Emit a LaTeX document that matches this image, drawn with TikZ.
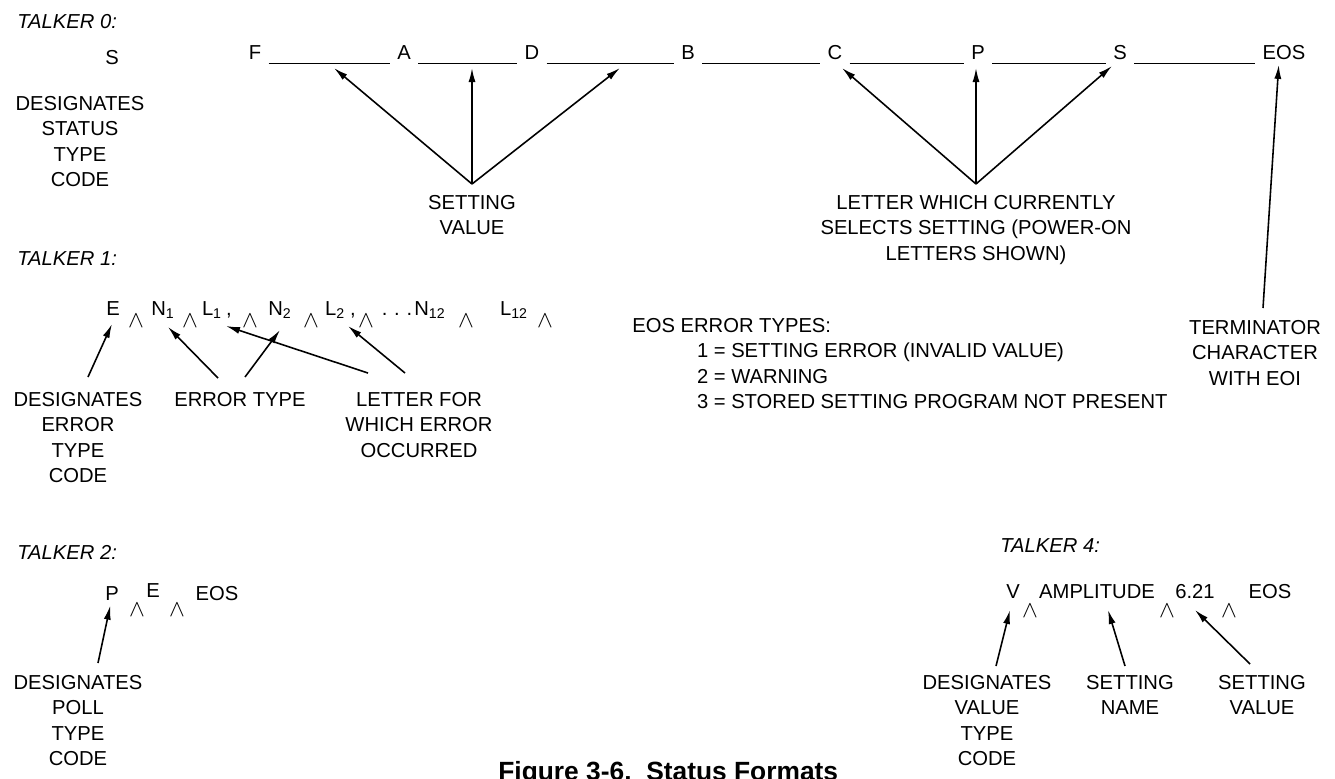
\documentclass[tikz,border=0pt]{standalone}
\usepackage{fontspec}
\setmainfont{Liberation Sans}
\usetikzlibrary{arrows.meta}

\tikzset{
  lbl/.style={align=center, inner sep=0pt, font=\fontsize{11.5}{14.5}\selectfont},
  tok/.style={anchor=base, inner sep=0pt, font=\fontsize{11.5}{14.5}\selectfont},
  wedge/.style={inner sep=0pt, scale=1.35},
  talker/.style={anchor=west, inner sep=0pt, font=\fontsize{11.5}{13}\selectfont\itshape},
  ptr/.style={-{Latex[length=8pt,width=4pt]}, line width=0.9pt},
  blank/.style={line width=0.9pt},
}

\begin{document}
\begin{tikzpicture}[x=0.02cm,y=-0.02cm]
\useasboundingbox (0,0) rectangle (1335,778);
\clip (0,0) rectangle (1335,778);

% talker 0
\node[talker] (tk0) at (17,22) {TALKER 0:};
\node[tok] (s0) at (112,64) {S};
\node[lbl,anchor=north] (ds0) at (80,96) {DESIGNATES\\STATUS\\TYPE\\CODE};
\node[tok] (F) at (255,59) {F};
\node[tok] (A) at (404,59) {A};
\node[tok] (D) at (532,59) {D};
\node[tok] (B) at (688,59) {B};
\node[tok] (C) at (835,59) {C};
\node[tok] (P) at (978,59) {P};
\node[tok] (S) at (1120,59) {S};
\node[tok] (eos0) at (1284,59) {EOS};
\foreach \a/\b in {F/A,A/D,D/B,B/C,C/P,P/S,S/eos0}
  \draw[blank] ([shift={(4pt,-2.5pt)}]\a.base east) -- ([shift={(-4pt,-2.5pt)}]\b.base west);
\coordinate (sv) at (472,184);
\coordinate (lc) at (976,184);
\node[lbl,anchor=north] (svtxt) at (472,195) {SETTING\\VALUE};
\node[lbl,anchor=north] (lctxt) at (976,195) {LETTER WHICH CURRENTLY\\SELECTS SETTING (POWER-ON\\LETTERS SHOWN)};
\draw[ptr] (sv) -- (334,68);
\draw[ptr] (sv) -- (472,68);
\draw[ptr] (sv) -- (620,68);
\draw[ptr] (lc) -- (842,68);
\draw[ptr] (lc) -- (976,68);
\draw[ptr] (lc) -- (1112,66);
\node[lbl,anchor=north] (term) at (1255,320) {TERMINATOR\\CHARACTER\\WITH EOI};
\draw[ptr] (term.north) ++(8,-12) -- ([shift={(-3pt,-3pt)}]eos0.south);

% talker 1
\node[talker] (tk1) at (17,259) {TALKER 1:};
\node[tok] (E1) at (113,315) {E};
\node[wedge] at (136,321) {$\wedge$};
\node[tok] (N1) at (163,315) {N\textsubscript{1}};
\node[wedge] at (190,321) {$\wedge$};
\node[tok] (L1) at (212,315) {L\textsubscript{1}};
\node[tok] at (229,315) {,};
\node[wedge] at (250,321) {$\wedge$};
\node[tok] (N2) at (280,315) {N\textsubscript{2}};
\node[wedge] at (311,321) {$\wedge$};
\node[tok] (L2) at (335,315) {L\textsubscript{2}};
\node[tok] at (353,315) {,};
\node[wedge] at (366,321) {$\wedge$};
\node[tok] at (397,315) {.\,\,.\,\,.};
\node[tok] (N12) at (430,315) {N\textsubscript{12}};
\node[wedge] at (466,321) {$\wedge$};
\node[tok] (L12) at (514,315) {L\textsubscript{12}};
\node[wedge] at (545,321) {$\wedge$};
\node[lbl,anchor=north] (ds1) at (78,392) {DESIGNATES\\ERROR\\TYPE\\CODE};
\node[lbl,anchor=north] (et1) at (240,392) {ERROR TYPE};
\node[lbl,anchor=north] (lf1) at (419,392) {LETTER FOR\\WHICH ERROR\\OCCURRED};
\draw[ptr] (88,377) -- (112,324);
\draw[ptr] (218,378) -- (168,327);
\draw[ptr] (245,377) -- (280,330);
\draw[ptr] (368,373) -- (226,326);
\draw[ptr] (405,373) -- (348,326);

% error types
\node[lbl,anchor=north west,align=left] (eos1) at (632,318)
  {EOS ERROR TYPES:\\
   \hspace*{3.2em}1 = SETTING ERROR (INVALID VALUE)\\
   \hspace*{3.2em}2 = WARNING\\
   \hspace*{3.2em}3 = STORED SETTING PROGRAM NOT PRESENT};

% talker 2
\node[talker] (tk2) at (17,552) {TALKER 2:};
\node[tok] (P2) at (112,600) {P};
\node[wedge] at (137,610) {$\wedge$};
\node[tok] (E2) at (153,597) {E};
\node[wedge] at (177,610) {$\wedge$};
\node[tok] (eos2) at (217,600) {EOS};
\node[lbl,anchor=north] (ds2) at (78,675) {DESIGNATES\\POLL\\TYPE\\CODE};
\draw[ptr] (ds2.north) ++(20,-12) -- ([shift={(-1pt,-3pt)}]P2.south);

% talker 4
\node[talker] (tk4) at (1000,546) {TALKER 4:};
\node[tok] (V4) at (1013,598) {V};
\node[wedge] at (1030,611) {$\wedge$};
\node[tok] (amp) at (1097,598) {AMPLITUDE};
\node[wedge] at (1167,611) {$\wedge$};
\node[tok] (val) at (1195,598) {6.21};
\node[wedge] at (1229,611) {$\wedge$};
\node[tok] (eos4) at (1270,598) {EOS};
\node[lbl,anchor=north] (ds4) at (987,675) {DESIGNATES\\VALUE\\TYPE\\CODE};
\node[lbl,anchor=north] (sn4) at (1130,675) {SETTING\\NAME};
\node[lbl,anchor=north] (sv4) at (1262,675) {SETTING\\VALUE};
\draw[ptr] (996,666) -- (1010,610);
\draw[ptr] (1125,666) -- (1108,610);
\draw[ptr] (1250,664) -- (1195,610);

% caption
\node[anchor=base west,inner sep=0pt,font=\fontsize{15}{17}\selectfont\bfseries] (cap) at (498,780) {Figure 3-6.\ \ Status Formats};
\end{tikzpicture}
\end{document}
